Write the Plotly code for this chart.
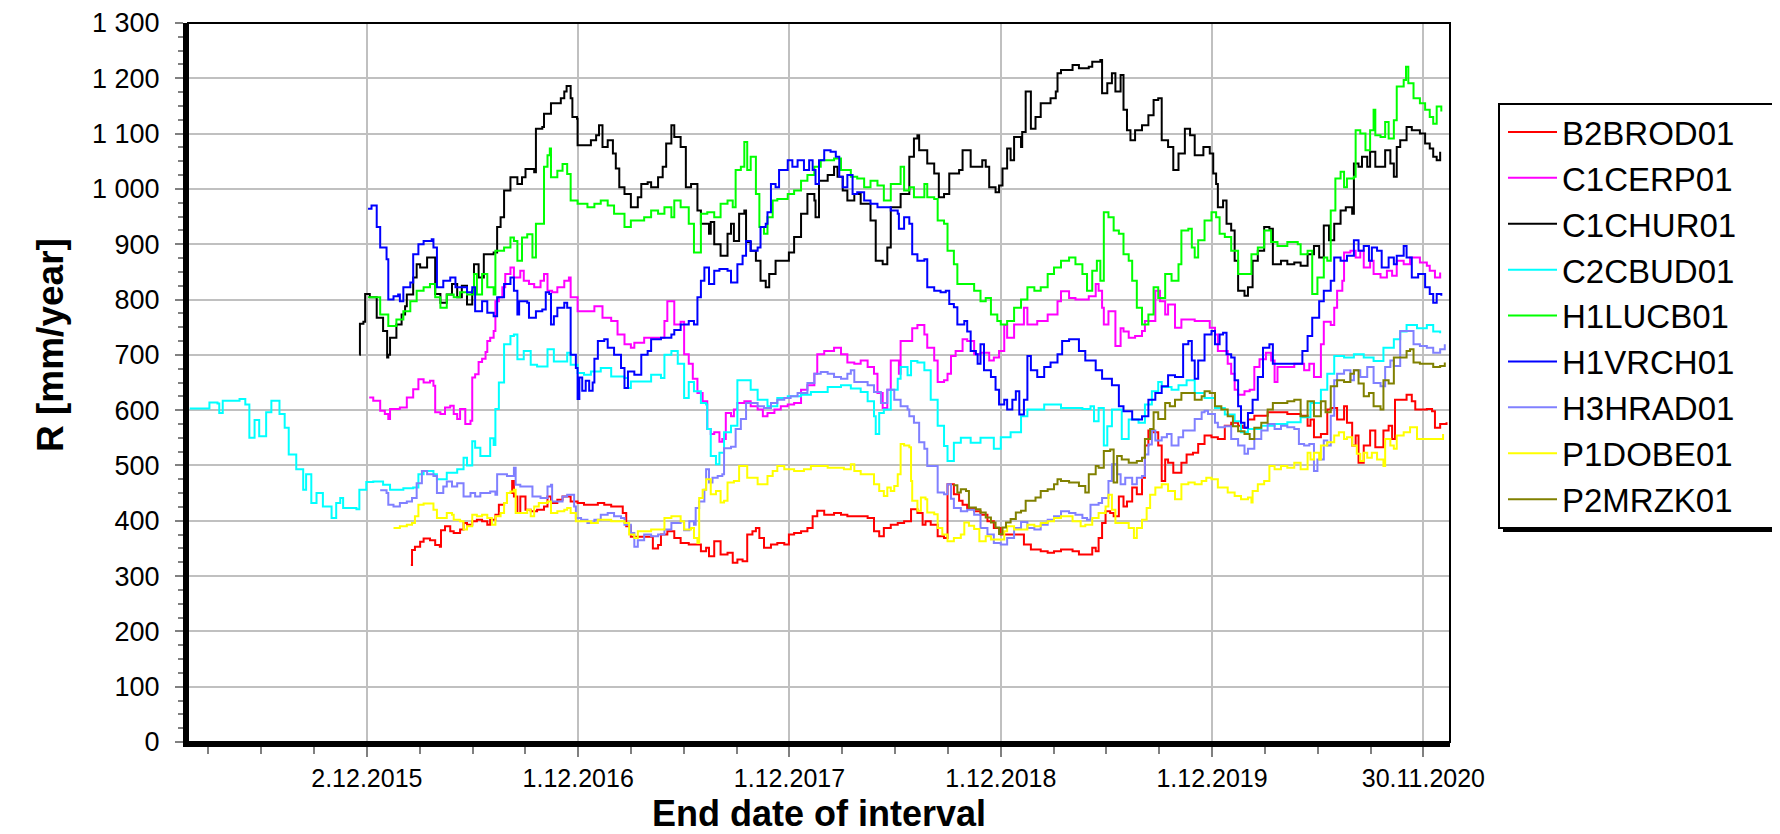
import plotly.graph_objects as go
import pandas as pd

# x values: days after 2015-12-02 (end date of interval), y values: R [mm/year]
BASE_DATE = "2015-12-02"

B2BROD01 = [(76,320),(78,347),(83,353),(92,362),(98,368),(109,365),(118,356),(126,353),(128,383),(135,390),
(144,381),(150,378),(161,384),(167,396),(173,393),(182,399),(190,402),(199,399),(208,393),(213,402),
(222,411),(228,429),(237,432),(242,450),(251,472),(254,444),(260,414),(265,444),(274,420),(283,417),
(294,420),(306,426),(312,444),(318,432),(329,438),(338,444),(349,444),(352,435),(364,432),(375,429),
(387,429),(399,432),(410,429),(422,426),(433,426),(442,414),(448,390),(456,371),(485,371),(494,350),(503,356),
(508,375),(519,381),(531,369),(542,360),(556,357),(565,357),(577,345),(586,351),(591,336),(600,363),
(611,339),(623,342),(632,324),(640,330),(649,327),(657,375),(666,381),(672,387),(678,369),(686,351),
(698,357),(709,360),(721,357),(729,375),(738,378),(750,381),(761,387),(770,408),(778,418),(790,411),
(807,414),(819,411),(830,408),(853,408),(865,405),(876,381),(885,372),(893,387),(905,393),(917,396),
(928,399),(940,421),(951,414),(960,393),(965,399),(974,393),(986,372),(997,369),(1003,466),(1012,466),
(1014,448),(1023,436),(1029,429),(1037,423),(1049,417),(1060,411),(1072,399),(1083,387),(1095,375),(1130,375),
(1135,357),(1147,348),(1164,345),(1176,342),(1187,345),(1199,348),
(1219,345),(1230,339),(1241,339),(1253,351),(1259,345),(1264,369),(1270,396),(1276,417),(1284,414),(1290,408),
(1299,444),(1307,426),(1313,435),(1322,460),(1330,448),(1339,478),(1344,536),(1350,563),(1359,560),(1367,536),
(1373,472),(1379,511),(1384,505),(1393,487),(1402,487),(1407,505),(1416,520),(1427,523),(1436,539),(1447,554),
(1459,551),(1470,548),(1482,572),(1493,577),(1505,572),(1513,568),(1522,583),(1533,590),(1556,596),(1579,596),
(1590,593),(1613,590),(1625,572),(1630,583),(1636,551),(1648,557),(1659,601),(1665,604),(1676,583),(1688,607),
(1693,577),(1702,536),(1708,554),(1713,505),(1722,536),(1733,563),(1742,533),(1751,533),(1756,563),(1765,572),
(1771,548),(1776,619),(1785,619),(1796,628),(1805,616),(1811,601),(1831,602),(1840,598),(1845,568),(1854,575),(1865,578)]

C1CERP01 = [(4,623),(11,617),(23,599),(31,593),(37,584),(40,602),(57,605),(69,623),(80,638),(89,656),
(98,650),(109,653),(115,644),(118,596),(127,593),(135,605),(144,608),(150,593),(156,584),(161,602),
(170,575),(179,581),(182,659),(187,665),(193,687),(199,693),(205,705),(208,725),(213,731),(219,743),
(222,797),(228,804),(234,822),(239,846),(248,858),(254,840),(265,852),(271,834),(280,828),(289,822),
(300,834),(306,846),(312,816),(320,813),(329,822),(341,834),(349,840),(352,804),(364,779),(381,779),
(393,788),(401,788),(407,767),(422,761),(433,737),(445,719),(456,713),(462,722),(479,731),(503,731),
(514,761),(519,797),(531,755),
(542,760),(548,701),(556,684),(563,657),(571,631),(580,616),(588,566),(594,557),(600,560),(609,543),
(614,548),(620,595),(629,589),(634,601),(640,613),(652,616),(663,607),(675,601),(684,589),(692,595),
(704,601),(715,607),(727,610),(738,613),(750,637),(761,645),(773,666),(778,701),(790,707),(807,713),
(819,701),(830,686),(842,684),(853,690),(865,678),(876,666),(882,631),(891,604),(899,637),(905,690),
(914,690),(919,666),(922,725),(934,725),(942,748),(951,754),(963,737),(968,713),(980,690),(986,651),
(997,654),(1003,666),(1009,698),(1017,707),(1029,728),(1037,725),(1049,701),(1060,704),(1075,690),(1083,695),
(1092,707),(1101,754),(1106,731),(1118,755),(1135,785),(1141,755),(1158,761),(1176,773),(1193,797),(1199,815),
(1213,803),(1224,800),(1247,806),(1259,828),(1264,816),(1270,785),(1273,755),(1281,779),(1293,716),(1302,748),
(1307,742),(1316,731),(1327,734),(1339,743),(1344,761),(1362,816),(1370,797),(1379,773),(1384,791),(1396,749),
(1407,764),(1430,761),(1447,761),(1456,749),(1465,737),(1470,707),(1482,707),(1487,684),(1493,666),(1499,637),
(1505,628),(1516,634),(1525,637),(1533,678),(1542,692),(1553,704),(1562,690),(1568,651),(1573,678),(1602,684),
(1613,684),(1619,672),(1628,684),(1636,660),(1642,660),(1648,719),(1653,760),(1665,754),(1671,785),(1676,816),
(1685,834),(1688,885),(1699,888),(1708,876),(1716,888),(1722,858),(1733,870),(1739,846),(1751,840),(1762,852),
(1771,843),(1779,870),(1791,864),(1802,876),(1819,867),(1831,861),(1836,852),(1845,840),(1854,849)]

C1CHUR01 = [(-13,700),(-12,756),(-6,760),(-3,810),(5,804),(17,767),(28,743),(35,695),(37,700),(40,731),
(51,755),(60,773),(66,788),(69,809),(80,840),(86,864),(92,858),(104,876),(115,876),(118,810),
(127,794),(138,809),(147,828),(156,804),(164,825),(173,791),(182,816),(185,864),(193,840),(202,882),
(219,885),(225,931),(231,949),(237,997),(248,1021),(260,1009),(268,1021),(274,1036),(289,1030),(292,1109),
(303,1112),(306,1136),(318,1155),(335,1164),(341,1176),(345,1186),(352,1164),(355,1130),(363,1127),(364,1079),
(375,1079),(387,1088),(396,1097),(401,1115),(407,1076),(416,1088),(425,1064),(430,1037),(436,1003),(445,991),
(456,967),(468,985),(474,1009),(485,1012),(491,1003),(503,1021),(511,1040),(517,1082),(526,1115),
(531,1094),(542,1076),(551,1003),(560,1009),(571,961),(577,937),(591,919),(594,940),(600,900),(611,879),
(623,919),(629,937),(634,906),(643,955),(652,961),(655,904),(663,888),(672,870),(680,834),(689,822),
(695,846),(706,870),(715,870),(729,885),(738,913),(750,955),(761,991),(773,979),(775,949),(781,1015),
(796,1025),(807,1040),(813,1022),(822,997),(830,979),(842,991),(853,973),(870,943),(879,870),(891,864),
(899,894),(905,967),(917,967),(922,991),(937,1058),(945,1091),(951,1097),(954,1070),(963,1070),(968,1046),
(980,1028),(988,985),(997,991),(1006,1028),(1023,1034),(1029,1070),(1035,1070),(1043,1040),(1052,1040),(1063,1052),
(1069,1040),(1075,1003),(1086,994),(1092,1006),(1098,1037),(1106,1073),(1112,1052),(1118,1094),(1130,1076),(1132,1103),
(1138,1176),(1147,1109),(1155,1130),(1164,1155),(1181,1164),(1190,1176),(1193,1209),(1199,1215),
(1219,1224),(1230,1218),(1247,1221),(1253,1230),(1267,1233),(1270,1173),(1279,1191),(1287,1209),(1293,1176),(1302,1206),
(1307,1143),(1313,1106),(1319,1088),(1327,1106),(1339,1115),(1350,1133),(1359,1161),(1367,1164),(1373,1088),(1384,1076),
(1393,1034),(1402,1064),(1413,1109),(1422,1097),(1430,1061),(1445,1076),(1456,1064),(1462,1028),(1467,1009),(1470,967),
(1479,979),(1485,937),(1493,925),(1499,870),(1505,816),(1516,807),(1522,822),(1530,870),(1539,888),(1550,931),
(1559,928),(1565,864),(1579,870),(1590,864),(1602,867),(1613,861),(1625,882),(1636,897),(1645,876),(1653,934),
(1662,907),(1671,937),(1682,961),(1691,967),(1702,955),(1705,1046),(1713,1040),(1719,1058),(1728,1040),(1733,1067),
(1742,1040),(1753,1040),(1759,1070),(1768,1046),(1774,1022),(1779,1076),(1785,1088),(1796,1112),(1805,1106),(1819,1100),
(1828,1082),(1836,1073),(1842,1058),(1848,1052),(1854,1067)]

C2CBUD01 = [(-306,603),(-278,603),(-272,614),(-258,612),(-255,595),(-249,617),(-220,620),(-210,610),(-203,550),(-194,582),
(-186,553),(-174,596),(-165,617),(-151,593),(-142,568),(-135,520),(-122,493),(-110,456),(-105,484),(-96,432),
(-87,450),(-76,426),(-61,405),(-53,432),(-46,441),(-41,423),(-18,421),(-13,456),(-1,470),(11,471),
(28,465),(40,456),(63,459),(80,460),(89,484),(98,490),(115,484),(121,475),(138,487),(156,493),
(167,514),(173,500),(182,544),(187,532),(196,517),(213,549),(219,537),(222,602),(228,650),(237,719),
(248,734),(254,737),(260,692),(271,707),(283,682),(294,679),(312,710),(323,688),(346,704),(352,682),
(364,667),(375,664),(387,670),(404,676),(422,661),(445,658),(451,640),(456,652),(468,652),(491,664),
(508,658),(514,700),(526,707),
(537,684),(548,622),(556,651),(565,634),(577,613),(586,610),(588,566),(594,517),(603,502),(609,523),
(617,560),(629,572),(640,654),(652,654),(663,637),(675,619),(692,607),(709,622),(727,625),(750,628),
(767,633),(796,642),(819,645),(836,639),(853,633),(865,616),(876,589),(879,557),(885,595),(893,601),
(905,637),(917,657),(922,678),(934,663),(940,689),(951,686),(963,672),(974,619),(986,572),(997,535),
(1003,508),(1014,541),(1026,550),(1043,541),(1060,550),(1083,530),(1095,551),(1112,560),(1130,589),(1141,601),
(1170,610),(1199,604),
(1236,602),(1250,607),(1256,580),(1264,604),(1273,536),(1279,571),(1287,601),(1304,548),(1316,583),(1333,577),
(1344,610),(1356,634),(1367,651),(1373,642),(1390,637),(1402,645),(1416,654),(1430,631),(1447,622),(1465,604),
(1482,592),(1499,580),(1510,560),(1522,566),(1545,572),(1568,575),(1590,578),(1613,587),(1630,613),(1648,637),
(1659,666),(1671,698),(1688,695),(1705,701),(1722,695),(1739,689),(1756,713),(1774,728),(1785,742),(1796,754),
(1814,748),(1831,754),(1842,742),(1854,739)]

H1LUCB01 = [(2,804),(11,804),(23,773),(37,752),(51,764),(63,779),(75,797),(86,816),(98,822),(109,828),
(118,804),(127,785),(138,809),(150,804),(161,813),(173,809),(185,846),(190,809),(199,846),(208,822),
(219,809),(222,888),(237,894),(248,912),(254,906),(260,870),(268,912),(277,918),(286,876),(289,876),
(292,937),(303,937),(306,1040),(312,1061),(316,1073),(318,1021),(329,1033),(338,1045),(346,1027),(352,979),
(364,973),(381,967),(393,973),(404,979),(416,970),(427,955),(445,931),(456,943),(479,949),(491,961),
(503,955),(514,967),(526,949),
(531,979),(542,967),(556,937),(565,885),(577,955),(588,958),(600,949),(611,973),(623,979),(632,967),
(637,1034),(646,1040),(652,1085),(657,1034),(663,1058),(672,991),(678,931),(686,919),(692,949),(701,979),
(709,982),(727,991),(738,997),(750,1015),(761,1025),(773,1040),(784,1052),(807,1055),(819,1034),(836,1022),
(847,1019),(859,1003),(870,1015),(882,1006),(893,979),(905,1009),(917,1009),(922,1040),(928,997),(937,1003),
(945,985),(963,1009),(968,985),(980,982),(986,943),(997,937),(1003,888),(1014,864),(1020,828),(1037,828),
(1049,816),(1060,797),(1069,803),(1078,773),(1089,761),(1095,755),(1106,761),(1118,785),(1130,800),(1141,822),
(1153,816),(1164,822),(1176,846),(1187,858),(1199,870),
(1213,876),(1224,864),(1236,846),(1244,816),(1253,852),(1261,870),(1267,834),(1273,958),(1281,949),(1290,925),
(1299,919),(1307,882),(1316,870),(1322,834),(1330,785),(1339,755),(1350,773),(1359,822),(1367,803),(1379,846),
(1390,834),(1402,864),(1407,925),(1419,928),(1425,894),(1430,876),(1436,907),(1447,943),(1459,958),(1467,949),
(1473,919),(1482,913),(1493,888),(1505,846),(1516,846),(1528,882),(1539,894),(1550,925),(1562,904),(1573,897),
(1590,904),(1608,900),(1613,882),(1625,888),(1633,810),(1642,840),(1653,876),(1659,870),(1665,961),(1673,1019),
(1682,1031),(1688,1003),(1693,1019),(1705,1022),(1708,1106),(1716,1100),(1725,1070),(1733,1106),(1739,1143),(1742,1097),
(1751,1094),(1759,1121),(1765,1091),(1774,1124),(1779,1185),(1791,1197),(1795,1221),(1799,1191),(1808,1164),(1819,1155),
(1828,1143),(1836,1130),(1842,1118),(1848,1149),(1856,1140)]

H1VRCH01 = [(2,964),(8,970),(17,931),(23,894),(34,873),(37,800),(46,806),(54,809),(57,797),(63,822),
(75,831),(80,882),(89,900),(98,906),(112,909),(115,894),(121,822),(132,834),(144,840),(153,822),
(161,822),(173,813),(182,822),(187,779),(199,797),(208,776),(219,770),(225,804),(237,828),(248,840),
(254,816),(260,773),(263,797),(277,794),(280,767),(289,767),(292,779),(303,782),(309,813),(315,810),
(318,755),(323,770),(329,785),(341,794),(346,785),(352,700),(361,676),(364,620),(367,659),(372,635),
(378,653),(384,635),(390,650),(393,693),(399,725),(410,728),(416,713),(427,700),(439,676),(445,640),
(451,670),(462,664),(474,700),(485,707),(491,728),(508,731),(526,737),
(531,745),(542,755),(556,761),(565,755),(571,804),(577,834),(583,858),(591,828),(600,852),(609,855),
(623,852),(629,831),(640,864),(649,879),(655,906),(663,888),(675,894),(680,931),(689,937),(692,958),
(698,1009),(706,1003),(712,1034),(727,1052),(735,1040),(744,1052),(755,1034),(764,1052),(770,1034),(775,1009),
(781,1052),(790,1070),(801,1067),(810,1058),(816,1022),(822,1003),(830,1025),(839,991),(847,994),(859,979),
(870,973),(882,967),(905,961),(917,955),(919,928),(928,949),(937,937),(942,882),(951,870),(963,873),
(968,822),(980,816),(991,813),(1000,816),(1006,792),(1014,786),(1020,755),(1032,761),(1037,742),(1043,707),
(1052,701),(1055,684),(1060,719),(1066,672),(1078,660),(1086,637),(1092,610),(1101,619),(1106,601),(1115,619),
(1121,634),(1127,592),(1135,619),(1141,698),(1147,672),(1158,660),(1170,678),(1181,686),(1193,701),
(1201,725),(1213,728),(1230,707),(1241,690),(1259,672),(1270,657),(1287,645),(1299,607),(1307,598),(1322,583),
(1339,589),(1350,619),(1362,631),(1373,643),(1384,663),(1396,660),(1410,719),(1419,725),(1425,690),(1430,657),
(1436,690),(1447,737),(1459,743),(1465,719),(1473,737),(1479,740),(1485,701),(1493,695),(1499,654),(1505,607),
(1510,577),(1516,568),(1522,595),(1530,619),(1539,660),(1548,713),(1559,719),(1565,684),(1610,684),(1616,707),
(1625,734),(1633,767),(1645,797),(1653,816),(1665,834),(1671,876),(1682,870),(1693,879),(1705,907),(1713,888),
(1722,897),(1731,870),(1736,894),(1745,888),(1753,858),(1765,876),(1774,864),(1779,879),(1791,897),(1796,876),
(1805,840),(1816,846),(1828,822),(1836,810),(1842,794),(1848,810),(1856,807)]

H3HRAD01 = [(23,455),(34,450),(37,429),(46,426),(57,432),(69,435),(78,441),(86,468),(95,490),(104,484),
(115,481),(121,450),(132,462),(138,471),(147,462),(156,468),(167,444),(179,450),(187,444),(196,450),
(213,453),(222,447),(225,484),(237,484),(242,481),(254,496),(257,465),(265,462),(277,462),(286,444),
(300,441),(312,462),(318,465),(320,435),(329,435),(338,444),(346,447),(358,426),(361,405),(370,402),
(381,396),(393,402),(404,411),(416,414),(427,408),(439,405),(445,393),(456,378),(462,353),(468,365),
(479,375),(491,372),(503,375),(514,384),(526,396),
(531,396),(542,399),(548,383),(557,399),(565,393),(568,423),(574,435),(583,456),(586,493),(591,469),
(597,478),(606,481),(614,484),(617,531),(629,534),(637,566),(646,584),(655,613),(663,613),(675,607),
(686,604),(698,613),(709,619),(721,622),(732,625),(744,631),(761,649),(773,666),(784,669),(796,666),
(807,660),(819,657),(830,666),(836,672),(842,651),(853,651),(865,645),(876,633),(888,613),(899,637),
(911,619),(922,607),(934,601),(937,589),(945,577),(954,542),(963,530),(968,499),(980,499),(986,451),
(997,448),(1003,466),(1009,440),(1014,423),(1026,417),(1037,420),(1049,411),(1060,387),(1072,375),(1083,360),
(1095,357),(1106,369),(1118,387),(1130,398),(1141,387),(1153,384),(1164,393),(1176,402),(1187,408),(1199,417),
(1213,414),(1224,411),(1236,405),(1244,402),(1250,429),(1264,432),(1270,441),(1281,472),(1287,502),(1296,484),
(1302,466),(1310,478),(1322,466),(1330,478),(1339,481),(1344,520),(1350,538),(1356,563),(1362,545),(1373,551),
(1382,557),(1390,536),(1402,551),(1410,563),(1419,563),(1430,584),(1442,596),(1447,599),(1453,593),(1465,577),
(1470,569),(1482,571),(1493,548),(1505,536),(1516,521),(1522,530),(1533,548),(1545,563),(1556,575),(1568,566),
(1579,572),(1590,569),(1602,566),(1610,539),(1619,536),(1628,539),(1636,490),(1642,511),(1653,545),(1659,536),
(1665,590),(1671,654),(1676,666),(1688,672),(1699,654),(1705,672),(1716,660),(1728,678),(1739,649),(1751,643),
(1759,678),(1768,690),(1774,680),(1785,743),(1796,743),(1808,719),(1819,716),(1831,713),(1842,704),(1854,710),
(1862,719)]

P1DOBE01 = [(46,387),(57,390),(69,393),(78,396),(83,408),(89,429),(98,431),(109,431),(115,420),(121,405),
(132,405),(138,414),(147,411),(150,402),(161,399),(167,384),(173,390),(182,411),(190,408),(199,411),
(208,405),(216,393),(222,408),(231,414),(237,432),(242,450),(248,453),(254,456),(257,414),(265,414),
(277,420),(283,408),(289,426),(297,432),(312,435),(318,414),(329,417),(341,420),(346,423),(352,414),
(361,399),(375,399),(387,396),(399,402),(410,402),(422,399),(445,396),(453,375),(462,369),(468,381),
(491,384),(503,384),(514,405),(526,408),
(542,399),(548,384),(560,387),(565,369),(571,360),(574,441),(580,456),(586,475),(594,448),(603,454),
(611,433),(617,436),(623,469),(634,472),(643,499),(652,499),(657,478),(669,478),(675,466),(686,466),
(692,481),(701,490),(709,499),(721,493),(738,490),(755,493),(767,499),(784,499),(796,496),(813,496),
(824,493),(836,502),(842,490),(853,484),(865,484),(876,466),(885,454),(893,445),(899,460),(905,454),
(911,463),(917,484),(922,539),(928,536),(937,533),(940,472),(942,436),(951,418),(957,442),(965,439),
(968,415),(980,412),(986,387),(994,375),(1003,363),(1014,369),(1026,375),(1032,397),(1040,391),(1049,385),
(1058,363),(1069,372),(1078,366),(1089,366),(1101,381),(1106,390),(1118,384),(1130,384),(1141,393),(1153,390),
(1164,396),(1176,399),(1187,405),(1199,408),
(1219,399),(1233,390),(1241,393),(1253,405),(1264,414),(1276,426),(1281,447),(1287,420),(1293,396),(1304,396),
(1316,387),(1325,369),(1330,387),(1339,402),(1347,423),(1353,447),(1362,460),(1373,466),(1384,454),(1396,439),
(1407,466),(1419,469),(1430,466),(1442,472),(1450,478),(1459,475),(1470,460),(1487,451),(1499,445),(1510,439),
(1522,442),(1528,433),(1530,454),(1539,466),(1550,472),(1559,499),(1568,493),(1579,499),(1590,496),(1602,505),
(1613,493),(1625,523),(1630,511),(1636,523),(1645,511),(1648,536),(1659,542),(1671,554),(1679,560),(1688,548),
(1693,551),(1702,536),(1710,521),(1716,508),(1722,523),(1728,514),(1736,523),(1745,511),(1756,499),(1759,548),
(1768,536),(1774,530),(1779,554),(1791,560),(1802,569),(1814,548),(1831,548),(1848,548),(1859,557)]

P2MRZK01 = [(1013,464),(1020,451),(1026,457),(1035,454),(1040,424),(1052,421),(1060,415),(1069,406),(1078,397),(1086,388),
(1092,376),(1098,388),(1104,397),(1112,403),(1121,415),(1130,418),(1138,436),(1147,436),(1155,442),(1164,454),
(1176,457),(1187,466),(1193,475),(1199,472),(1213,469),(1230,463),(1241,451),(1247,484),(1259,499),(1264,496),
(1273,526),(1284,529),(1290,469),(1296,517),(1304,511),(1316,505),(1330,508),(1339,514),(1344,548),(1353,566),
(1359,596),(1367,584),(1379,613),(1387,607),(1396,619),(1407,631),(1419,631),(1430,619),(1442,625),(1447,634),
(1456,631),(1465,607),(1476,601),(1487,589),(1496,571),(1505,562),(1516,557),(1525,548),(1533,568),(1545,577),
(1556,601),(1565,613),(1579,613),(1590,616),(1602,619),(1613,589),(1625,616),(1636,589),(1648,616),(1656,596),
(1665,643),(1676,654),(1688,651),(1699,666),(1705,672),(1713,648),(1722,625),(1731,631),(1739,607),(1751,601),
(1756,654),(1765,648),(1774,695),(1785,695),(1796,707),(1802,710),(1808,686),(1819,684),(1831,684),(1842,678),
(1854,680),(1862,686)]

SERIES_NAMES = ["B2BROD01", "C1CERP01", "C1CHUR01", "C2CBUD01", "H1LUCB01",
                "H1VRCH01", "H3HRAD01", "P1DOBE01", "P2MRZK01"]
SERIES_DATA = [B2BROD01, C1CERP01, C1CHUR01, C2CBUD01, H1LUCB01,
               H1VRCH01, H3HRAD01, P1DOBE01, P2MRZK01]
SERIES_COLORS = ["#ff0000", "#ff00ff", "#000000", "#00ffff", "#00ff00",
                 "#0000ff", "#8080ff", "#ffff00", "#808000"]

Y_TICKS = [0, 100, 200, 300, 400, 500, 600, 700, 800, 900, 1000, 1100, 1200, 1300]

base = pd.Timestamp(BASE_DATE)
DAY_MS = 86400000

fig = go.Figure()
for name, pts, color in zip(SERIES_NAMES, SERIES_DATA, SERIES_COLORS):
    days = [p[0] for p in pts]
    vals = [p[1] for p in pts]
    xs = [(base + pd.Timedelta(days=d)).strftime("%Y-%m-%d") for d in days]
    fig.add_trace(go.Scatter(x=xs, y=vals, mode="lines", name=name,
                             line=dict(color=color, width=2, shape="hv")))

x_start = (base + pd.Timedelta(days=-309)).strftime("%Y-%m-%d")
x_end = (base + pd.Timedelta(days=1871)).strftime("%Y-%m-%d")

REGULAR = "Liberation Sans, Arial, Helvetica, sans-serif"

# The page body has an 8 px margin, so the figure is drawn 8 px smaller
# and every page position below is given in window pixels.
PAGE_OFF = 8
FIG_W, FIG_H = 1780 - PAGE_OFF, 834 - PAGE_OFF
# plot-area position in window pixels
L, R, T, B = 188, 1450, 23, 742
PW, PH = R - L, B - T

def px(xp):
    return (xp - L) / PW

def py(yp):
    return (B - yp) / PH

fig.update_layout(
    width=FIG_W, height=FIG_H,
    margin=dict(l=L - PAGE_OFF, r=FIG_W - (R - PAGE_OFF), t=T - PAGE_OFF,
                b=FIG_H - (B - PAGE_OFF), autoexpand=False),
    paper_bgcolor="white", plot_bgcolor="white",
    separators=". ",
    showlegend=True,
    legend=dict(x=px(1503), y=py(104), xanchor="left", yanchor="top",
                font=dict(family=REGULAR, size=33, color="black"),
                bgcolor="rgba(0,0,0,0)", borderwidth=0, itemwidth=49,
                tracegroupgap=0),
    annotations=[dict(text="<b>R [mm/year]</b>", xref="paper", yref="paper",
                      x=px(50), y=py(345), textangle=-90,
                      showarrow=False, xanchor="center", yanchor="middle",
                      font=dict(family=REGULAR, size=37, color="black"))],
    shapes=[
        # legend shadow and box
        dict(type="rect", xref="paper", yref="paper", layer="above",
             x0=px(1503), x1=px(1781), y0=py(532), y1=py(108),
             fillcolor="black", line=dict(width=0)),
        dict(type="rect", xref="paper", yref="paper", layer="above",
             x0=px(1499), x1=px(1777), y0=py(528), y1=py(104),
             fillcolor="white", line=dict(color="black", width=2)),
        # plot frame
        dict(type="rect", xref="paper", yref="paper", layer="above",
             x0=0, x1=1, y0=0, y1=1, line=dict(color="black", width=2)),
    ],
)

fig.update_xaxes(
    type="date", range=[x_start, x_end], automargin=False,
    tick0=BASE_DATE, dtick=365 * DAY_MS, tickformat="%-d.%m.%Y",
    tickfont=dict(family=REGULAR, size=25, color="black"),
    ticks="outside", ticklen=10, tickwidth=1.5, tickcolor="#808080",
    minor=dict(tick0=BASE_DATE, dtick=int(91.25 * DAY_MS), ticks="outside",
               ticklen=7, tickwidth=1.5, tickcolor="#808080", showgrid=False),
    showgrid=True, gridcolor="#c0c0c0", gridwidth=2,
    showline=True, linecolor="black", linewidth=5, zeroline=False,
    title=dict(text="<b>End date of interval</b>", standoff=18,
               font=dict(family=REGULAR, size=36, color="black")),
)
fig.update_yaxes(
    range=[0, 1300], tickvals=Y_TICKS, tickformat=",d", automargin=False,
    tickfont=dict(family=REGULAR, size=27, color="black"),
    ticks="outside", ticklen=8, tickwidth=1.5, tickcolor="#808080",
    ticklabelstandoff=10,
    minor=dict(dtick=25, ticks="outside", ticklen=5, tickwidth=1.5,
               tickcolor="#808080", showgrid=False),
    showgrid=True, gridcolor="#c0c0c0", gridwidth=2,
    showline=True, linecolor="black", linewidth=5, zeroline=False,
)

fig.write_html("out.html")
